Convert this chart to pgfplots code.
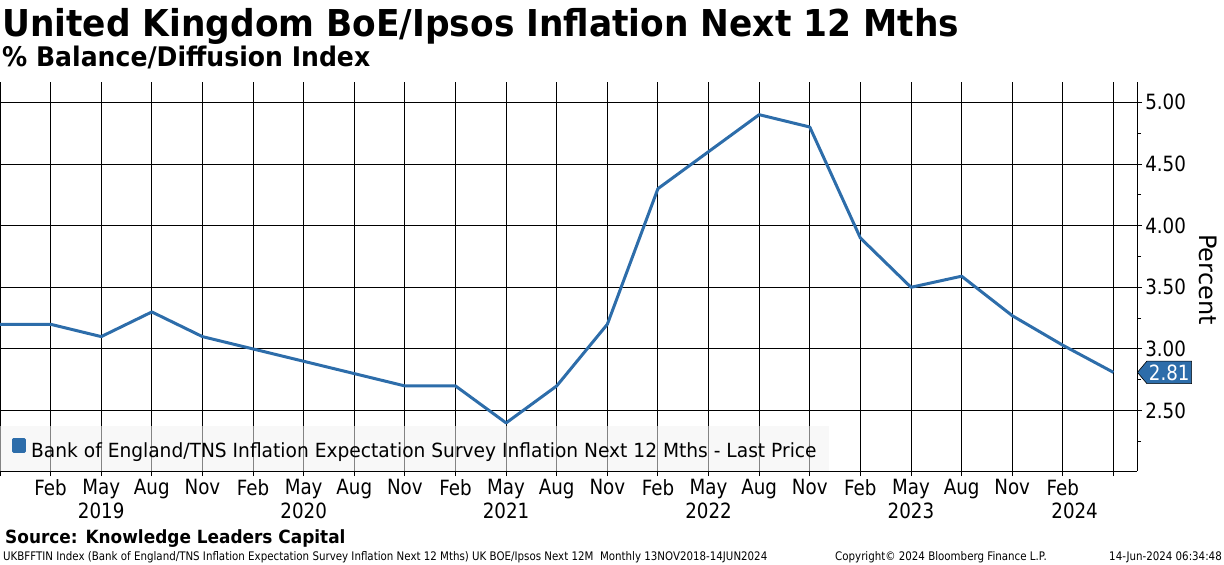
\documentclass[border=0pt]{standalone}
\usepackage{fontspec}
\setmainfont{DejaVu Sans}[FakeStretch=0.87]
\newfontfamily\widefont{DejaVu Sans}[FakeStretch=0.93]
\newfontfamily\legfont{DejaVu Sans}[FakeStretch=0.955]
\newfontfamily\fullfont{DejaVu Sans}
\usepackage{pgfplots}
\pgfplotsset{compat=1.18}
\usetikzlibrary{shapes.symbols}
\definecolor{bbblue}{RGB}{45,109,170}
\definecolor{legfill}{RGB}{242,242,242}
\definecolor{sepgray}{RGB}{128,128,128}

\begin{document}
\begin{tikzpicture}
\path[use as bounding box] (0,-94pt) rectangle (1224pt,471pt);
\begin{axis}[
    at={(0,0)}, anchor=south west,
    scale only axis,
    width=1137pt, height=389pt,
    xmin=0, xmax=67.4,
    ymin=2.01, ymax=5.165,
    axis x line*=bottom,
    axis y line*=right,
    axis line style={line width=0.9pt, black},
    xtick={0,3,...,66},
    xticklabels={,Feb,May,Aug,Nov,Feb,May,Aug,Nov,Feb,May,Aug,Nov,Feb,May,Aug,Nov,Feb,May,Aug,Nov,Feb,},
    ytick={2.5,3,...,5},
    minor ytick={2.25,2.75,...,4.75},
    y tick label style={/pgf/number format/fixed, /pgf/number format/fixed zerofill, /pgf/number format/precision=2},
    /pgf/number format/assume math mode=true,
    grid=major,
    major grid style={line width=0.9pt, black},
    tick align=outside,
    major tick length=5pt,
    minor tick length=4pt,
    tick style={line width=0.9pt, black},
    ticklabel style={font=\fontsize{21}{21}\selectfont},
    xticklabel style={inner sep=0pt, yshift=-3pt},
    yticklabel style={inner sep=0pt, xshift=3pt},
    clip mode=individual,
    legend style={
        at={(0,0)}, anchor=south west,
        draw=none, fill=legfill, fill opacity=0.55, text opacity=1,
        inner xsep=12pt, inner ysep=11.5pt,
        font=\legfont\fontsize{19.5}{20}\selectfont,
        nodes={inner sep=0pt},
        /tikz/every odd column/.append style={column sep=5pt},
    },
    legend image code/.code={
        \fill[bbblue, fill opacity=1] (0pt,0pt) rectangle (11pt,12pt);
    },
]
\addplot[color=bbblue, line width=3pt, line join=round] coordinates {
    (0,3.2) (3,3.2) (6,3.1) (9,3.3) (12,3.1) (15,3.0) (18,2.9) (21,2.8)
    (24,2.7) (27,2.7) (30,2.4) (33,2.7) (36,3.2) (39,4.3) (42,4.6) (45,4.9)
    (48,4.8) (51,3.9) (54,3.5) (57,3.59) (60,3.27) (63,3.03) (66,2.81)
};
\addlegendentry{Bank of England/TNS Inflation Expectation Survey Inflation Next 12 Mths - Last Price}

% year separators and labels
\draw[sepgray, line width=0.9pt] (axis cs:12,2.01) ++(0,-27pt) -- ++(0,-25pt);
\draw[sepgray, line width=0.9pt] (axis cs:24,2.01) ++(0,-27pt) -- ++(0,-25pt);
\draw[sepgray, line width=0.9pt] (axis cs:36,2.01) ++(0,-27pt) -- ++(0,-25pt);
\draw[sepgray, line width=0.9pt] (axis cs:48,2.01) ++(0,-27pt) -- ++(0,-25pt);
\draw[sepgray, line width=0.9pt] (axis cs:60,2.01) ++(0,-27pt) -- ++(0,-25pt);
\node[font=\fontsize{21}{21}\selectfont, inner sep=0pt] at ([yshift=-40pt]axis cs:6,2.01) {2019};
\node[font=\fontsize{21}{21}\selectfont, inner sep=0pt] at ([yshift=-40pt]axis cs:18,2.01) {2020};
\node[font=\fontsize{21}{21}\selectfont, inner sep=0pt] at ([yshift=-40pt]axis cs:30,2.01) {2021};
\node[font=\fontsize{21}{21}\selectfont, inner sep=0pt] at ([yshift=-40pt]axis cs:42,2.01) {2022};
\node[font=\fontsize{21}{21}\selectfont, inner sep=0pt] at ([yshift=-40pt]axis cs:54,2.01) {2023};
\node[font=\fontsize{21}{21}\selectfont, inner sep=0pt] at ([yshift=-40pt]axis cs:63.7,2.01) {2024};

% last value tag
\node[signal, signal to=west, signal pointer angle=100, fill=bbblue, draw=black,
      line width=0.6pt, text=white, font=\fontsize{21}{21}\selectfont,
      inner xsep=2pt, inner ysep=3.3pt, anchor=west] at (axis cs:67.4,2.81) {2.81};

\node[rotate=-90, font=\fullfont\fontsize{24}{24}\selectfont, inner sep=0pt]
    at ([xshift=71pt, yshift=-3pt]axis description cs:1,0.5) {Percent};
\end{axis}

\node[anchor=base west, inner sep=0pt, font=\widefont\bfseries\fontsize{37}{37}\selectfont]
    at (2pt,434pt) {United Kingdom BoE/Ipsos Inflation Next 12 Mths};
\node[anchor=base west, inner sep=0pt, font=\widefont\bfseries\fontsize{27}{27}\selectfont]
    at (2pt,404pt) {\% Balance/Diffusion Index};
\node[anchor=base west, inner sep=0pt, font=\widefont\bfseries\fontsize{18.2}{18.2}\selectfont]
    at (5pt,-72pt) {Source: Knowledge Leaders Capital};
\node[anchor=base west, inner sep=0pt, font=\fontsize{11.8}{11.8}\selectfont]
    at (3pt,-89pt) {UKBFFTIN Index (Bank of England/TNS Inflation Expectation Survey Inflation Next 12 Mths) UK BOE/Ipsos Next 12M\ \ Monthly 13NOV2018-14JUN2024};
\node[anchor=base west, inner sep=0pt, font=\fontsize{11.8}{11.8}\selectfont]
    at (835pt,-89pt) {Copyright© 2024 Bloomberg Finance L.P.};
\node[anchor=base east, inner sep=0pt, font=\fontsize{11.8}{11.8}\selectfont]
    at (1222pt,-89pt) {14-Jun-2024 06:34:48};
\end{tikzpicture}
\end{document}
